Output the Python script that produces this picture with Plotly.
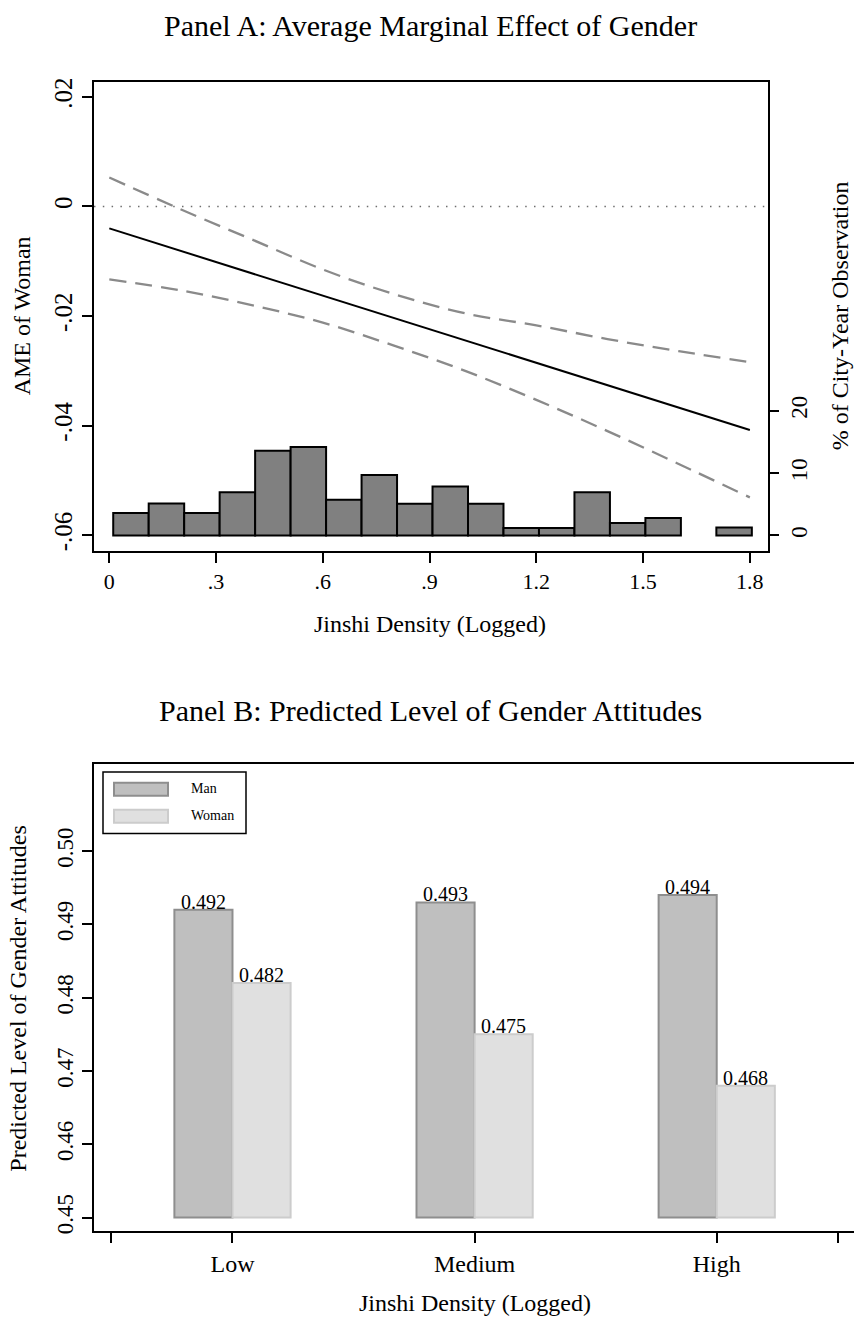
import plotly.graph_objects as go

# ---------------- Panel A data ----------------
density_grid = [0.0, 0.2, 0.4, 0.6, 0.8, 1.0, 1.2, 1.4, 1.6, 1.8]
ame_woman = [-0.0040, -0.0081, -0.0122, -0.0163, -0.0204, -0.0245, -0.0285, -0.0326, -0.0367, -0.0408]
ci_upper = [0.0053, -0.0005, -0.0060, -0.0115, -0.0160, -0.0195, -0.0217, -0.0242, -0.0264, -0.0284]
ci_lower = [-0.0133, -0.0153, -0.0180, -0.0212, -0.0254, -0.0300, -0.0353, -0.0410, -0.0470, -0.0531]

hist_start = 0.011
hist_width = 0.0997
hist_pct = [3.6, 5.15, 3.6, 6.95, 13.6, 14.2, 5.74, 9.7, 5.1, 7.86,
            5.1, 1.2, 1.2, 6.95, 2.0, 2.8, 0.0, 1.3]

x_ticks_a = [0, 0.3, 0.6, 0.9, 1.2, 1.5, 1.8]
x_ticktext_a = ["0", ".3", ".6", ".9", "1.2", "1.5", "1.8"]
y_ticks_a = [-0.06, -0.04, -0.02, 0, 0.02]
y_ticktext_a = ["-.06", "-.04", "-.02", "0", ".02"]
y2_ticks_a = [0, 10, 20]

# ---------------- Panel B data ----------------
density_groups = ["Low", "Medium", "High"]
group_pos = [1, 2, 3]
pred_man = [0.492, 0.493, 0.494]
pred_woman = [0.482, 0.475, 0.468]
bar_base = 0.45
y_ticks_b = [0.45, 0.46, 0.47, 0.48, 0.49, 0.50]

W, H = 854, 1322
FONT = "Liberation Serif"


def fx(p):
    return p / W


def fy(p):
    return 1 - p / H


def label(x, y, text, size, angle=0, xanchor="center"):
    return dict(x=fx(x), y=fy(y), xref="paper", yref="paper", text=text, textangle=angle,
                xanchor=xanchor, yanchor="middle", showarrow=False,
                font=dict(family=FONT, size=size, color="#000"))


fig = go.Figure()

# histogram of observations (right axis)
centers = [hist_start + hist_width * (i + 0.5) for i in range(len(hist_pct))]
hx = [c for c, p in zip(centers, hist_pct) if p > 0]
hy = [p for p in hist_pct if p > 0]
fig.add_trace(go.Bar(
    x=hx, y=hy, width=hist_width, xaxis="x", yaxis="y2",
    marker=dict(color="#808080", line=dict(color="#000000", width=2)),
    showlegend=False,
))

# confidence bounds
for ci in (ci_upper, ci_lower):
    fig.add_trace(go.Scatter(
        x=density_grid, y=ci, mode="lines", xaxis="x", yaxis="y",
        line=dict(color="#8a8a8a", width=2.3, dash="17px,9px", shape="spline"),
        showlegend=False,
    ))

# average marginal effect
fig.add_trace(go.Scatter(
    x=density_grid, y=ame_woman, mode="lines", xaxis="x", yaxis="y",
    line=dict(color="#000000", width=2),
    showlegend=False,
))

# Panel B bars
fig.add_trace(go.Bar(
    x=group_pos, y=[v - bar_base for v in pred_man], base=bar_base,
    width=0.24, offset=-0.24, xaxis="x2", yaxis="y3", name="Man",
    marker=dict(color="#bfbfbf", line=dict(color="#8e8e8e", width=2)),
    showlegend=False,
))
fig.add_trace(go.Bar(
    x=group_pos, y=[v - bar_base for v in pred_woman], base=bar_base,
    width=0.24, offset=0.0, xaxis="x2", yaxis="y3", name="Woman",
    marker=dict(color="#e0e0e0", line=dict(color="#cccccc", width=2)),
    showlegend=False,
))

annotations = []
for g, vm, vw in zip(group_pos, pred_man, pred_woman):
    for xpos, v in ((g - 0.12, vm), (g + 0.12, vw)):
        annotations.append(dict(x=xpos, y=v, xref="x2", yref="y3", text=f"{v:.3f}",
                                showarrow=False, xanchor="center", yanchor="bottom", yshift=-5,
                                font=dict(family=FONT, size=20, color="#000")))

# titles and legend labels
annotations += [
    label(430, 22, "Panel A: Average Marginal Effect of Gender", 30),
    label(430, 623, "Jinshi Density (Logged)", 24),
    label(22, 314, "AME of Woman", 24, angle=-90),
    label(840, 314, "% of City-Year Observation", 24, angle=-90),
    label(430, 710, "Panel B: Predicted Level of Gender Attitudes", 30),
    label(475, 1306, "Jinshi Density (Logged)", 24),
    label(18, 1000, "Predicted Level of Gender Attitudes", 24, angle=-90),
    label(189, 789, "Man", 14, xanchor="left"),
    label(189, 816, "Woman", 14, xanchor="left"),
]

shapes = [
    # zero reference line
    dict(type="line", xref="x domain", yref="y", x0=0, x1=1, y0=0, y1=0,
         line=dict(color="#6e6e6e", width=1.5, dash="1.5px,7.3px")),
    # legend box and swatches
    dict(type="rect", xref="paper", yref="paper", x0=fx(103), x1=fx(246), y0=fy(834), y1=fy(772),
         line=dict(color="#000", width=1.5), fillcolor="white"),
    dict(type="rect", xref="paper", yref="paper", x0=fx(114), x1=fx(168), y0=fy(796), y1=fy(783),
         line=dict(color="#8e8e8e", width=2), fillcolor="#bfbfbf"),
    dict(type="rect", xref="paper", yref="paper", x0=fx(114), x1=fx(168), y0=fy(823), y1=fy(810),
         line=dict(color="#cccccc", width=2), fillcolor="#e0e0e0"),
]

axis_common = dict(showgrid=False, zeroline=False, ticks="outside", ticklen=10, tickwidth=1.5,
                   tickcolor="#000", linecolor="#000", linewidth=2)

fig.update_layout(
    width=W, height=H,
    margin=dict(l=0, r=0, t=0, b=0),
    paper_bgcolor="white", plot_bgcolor="white",
    font=dict(family=FONT, color="#000"),
    barmode="overlay",
    showlegend=False,
    xaxis=dict(domain=[fx(94), fx(768)], range=[-0.043, 1.851], anchor="y",
               tickvals=x_ticks_a, ticktext=x_ticktext_a, tickfont=dict(size=22),
               showline=True, mirror=True, **axis_common),
    yaxis=dict(domain=[fy(550), fy(78)], range=[-0.0629, 0.0228], anchor="x",
               tickvals=y_ticks_a, ticktext=y_ticktext_a, tickangle=-90, tickfont=dict(size=25),
               showline=True, mirror=True, **axis_common),
    yaxis2=dict(overlaying="y", side="right", anchor="x", range=[-2.5, 72.8],
                tickvals=y2_ticks_a, tickangle=-90, tickfont=dict(size=23),
                showline=False, showgrid=False, zeroline=False, ticks="outside", ticklen=10,
                tickwidth=1.5, tickcolor="#000"),
    xaxis2=dict(domain=[fx(94), 1.0], range=[0.428, 3.567], anchor="y3",
                tickvals=[0.5] + group_pos + [3.5], ticktext=[""] + density_groups + [""],
                tickfont=dict(size=24), showline=True, mirror=True, **axis_common),
    yaxis3=dict(domain=[fy(1234), fy(764)], range=[0.4481, 0.5119], anchor="x2",
                tickvals=y_ticks_b, ticktext=[f"{v:.2f}" for v in y_ticks_b], tickangle=-90,
                tickfont=dict(size=23), showline=True, mirror=False, **axis_common),
    annotations=annotations,
    shapes=shapes,
)

fig.write_html("out.html")
